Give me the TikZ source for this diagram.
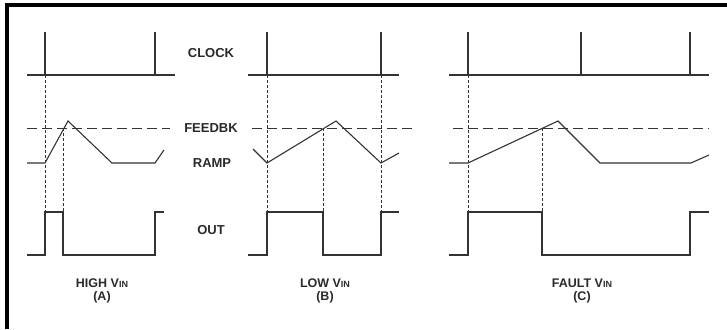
\documentclass[tikz,border=0pt]{standalone}
\usepackage{fontspec}
\setmainfont{Liberation Sans}
\definecolor{lc}{HTML}{333333}
\definecolor{tc}{HTML}{2A2A2A}
\begin{document}
\begin{tikzpicture}[x=1pt,y=-1pt,
  wave/.style={draw=lc, line width=1.1pt, line join=miter},
  fbline/.style={draw=lc, line width=1pt, dash pattern=on 10pt off 5pt},
  guide/.style={draw=lc, line width=0.8pt, dash pattern=on 3pt off 2pt},
  sig/.style={font=\fontsize{13}{13}\selectfont\bfseries, text=tc, inner sep=0pt},
  case/.style={font=\fontsize{12.5}{13}\selectfont\bfseries, text=tc, inner sep=0pt, align=center}]
\useasboundingbox (0,0) rectangle (727,329);
% frame
\fill[black] (5,3.5) rectangle (727,7.5);
\fill[black] (5,3.5) rectangle (9,329);
% labels
\node[sig] (lclk) at (211,53) {CLOCK};
\node[sig] (lfb) at (211,128) {FEEDBK};
\node[sig] (lramp) at (212,163) {RAMP};
\node[sig] (lout) at (211,230) {OUT};
\newcommand{\vin}{V{\fontsize{9}{9}\selectfont IN}}
\node[case] (la) at (102,291) {HIGH \vin\\(A)};
\node[case] (lb) at (325,291) {LOW \vin\\(B)};
\node[case] (lc) at (582,291) {FAULT \vin\\(C)};
% ---------- panel A
\draw[wave] (27,75) -- (175,75);
\draw[wave] (45,32) -- (45,75);
\draw[wave] (155,32) -- (155,75);
\draw[fbline] (27,128) -- (170,128);
\draw[wave] (27,163) -- (45,163) -- (68,121) -- (112,163) -- (155,163) -- (164,150);
\draw[wave] (27,255) -- (45,255) -- (45,212) -- (63,212) -- (63,255) -- (155,255) -- (155,212) -- (164,212);
\draw[guide] (45,75) -- (45,212);
\draw[guide] (63,128) -- (63,212);
% ---------- panel B
\draw[wave] (248,75) -- (399,75);
\draw[wave] (267,32) -- (267,75);
\draw[wave] (381,32) -- (381,75);
\draw[fbline] (252,128) -- (414,128);
\draw[wave] (253,149) -- (267,163) -- (336,121) -- (381,163) -- (399,153);
\draw[wave] (248,255) -- (267,255) -- (267,212) -- (323,212) -- (323,255) -- (381,255) -- (381,212) -- (399,212);
\draw[guide] (267,75) -- (267,212);
\draw[guide] (323,128) -- (323,212);
\draw[guide] (381,75) -- (381,212);
% ---------- panel C
\draw[wave] (449,75) -- (709,75);
\draw[wave] (468,32) -- (468,75);
\draw[wave] (581,32) -- (581,75);
\draw[wave] (690,32) -- (690,75);
\draw[fbline] (453,128) -- (709,128);
\draw[wave] (449,163) -- (468,163) -- (558,121) -- (600,163) -- (691,163) -- (709,155);
\draw[wave] (449,255) -- (468,255) -- (468,212) -- (542,212) -- (542,255) -- (690,255) -- (690,212) -- (709,212);
\draw[guide] (468,75) -- (468,212);
\draw[guide] (542,128) -- (542,212);
\end{tikzpicture}
\end{document}
